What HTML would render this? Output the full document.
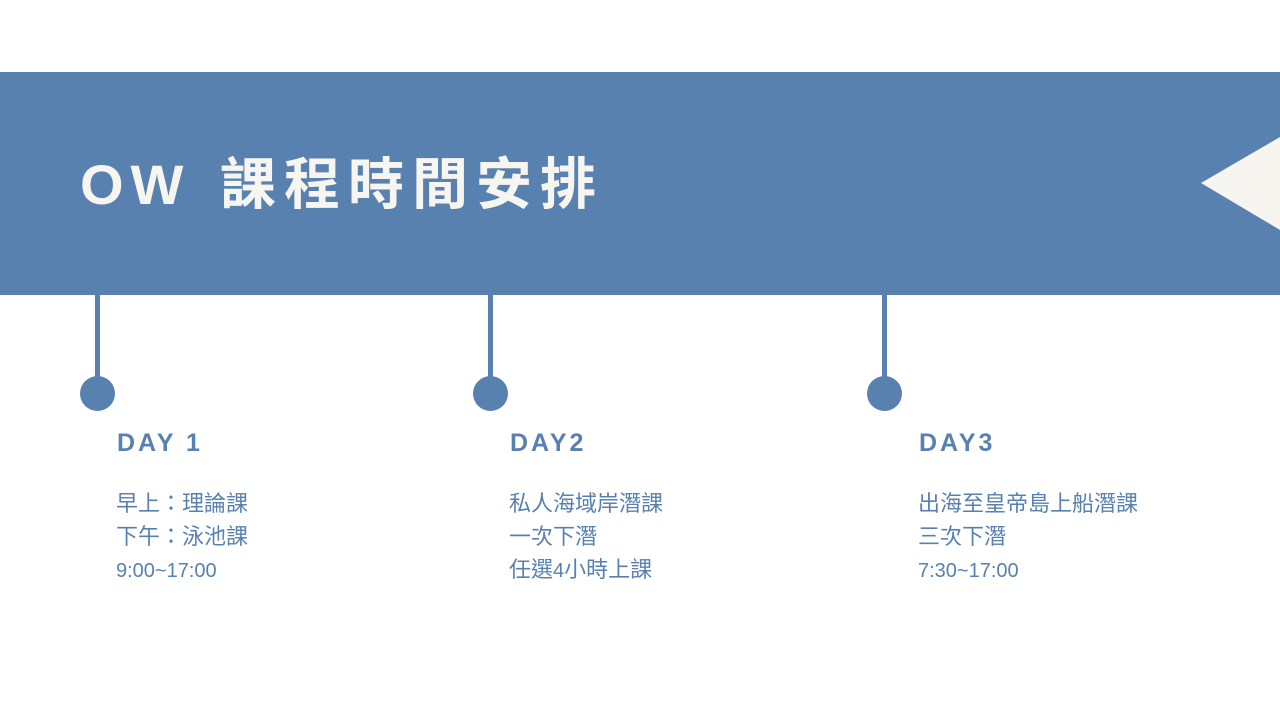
<!DOCTYPE html>
<html><head><meta charset="utf-8"><style>
body{margin:0;width:1280px;height:711px;background:#fff;position:relative;overflow:hidden;font-family:"Liberation Sans","Noto Sans CJK TC",sans-serif;}
.banner{position:absolute;left:0;top:72px;width:1280px;height:223px;background:#5981b0;}
.title{position:absolute;left:80px;top:150px;font-size:56px;font-weight:bold;color:#f6f5f0;letter-spacing:7px;line-height:70px;white-space:nowrap;}
.cj{position:absolute;left:140px;top:0;letter-spacing:8px;}
.line{position:absolute;top:295px;width:5px;height:88px;background:#5981b0;}
.dot{position:absolute;top:376px;width:35px;height:35px;border-radius:50%;background:#5981b0;}
.h{position:absolute;top:426px;font-size:25px;font-weight:bold;color:#5981b0;letter-spacing:3px;line-height:34px;white-space:nowrap;}
.t{position:absolute;top:487px;font-size:22px;color:#5981b0;line-height:33px;white-space:nowrap;}
.n{font-size:20px;}
</style></head><body>
<div class="banner"></div>
<svg style="position:absolute;left:0;top:0" width="1280" height="711"><polygon points="1280,137 1201,183 1280,230" fill="#f6f5f0"/></svg>
<div class="title">OW<span class="cj">課程時間安排</span></div>
<div class="line" style="left:95px"></div><div class="dot" style="left:80px"></div>
<div class="line" style="left:488px"></div><div class="dot" style="left:473px"></div>
<div class="line" style="left:882px"></div><div class="dot" style="left:867px"></div>
<div class="h" style="left:117px">DAY 1</div>
<div class="h" style="left:510px">DAY2</div>
<div class="h" style="left:919px">DAY3</div>
<div class="t" style="left:116px">早上：理論課<br>下午：泳池課<br><span class="n">9:00~17:00</span></div>
<div class="t" style="left:509px">私人海域岸潛課<br>一次下潛<br>任選<span class="n">4</span>小時上課</div>
<div class="t" style="left:918px">出海至皇帝島上船潛課<br>三次下潛<br><span class="n">7:30~17:00</span></div>
</body></html>
